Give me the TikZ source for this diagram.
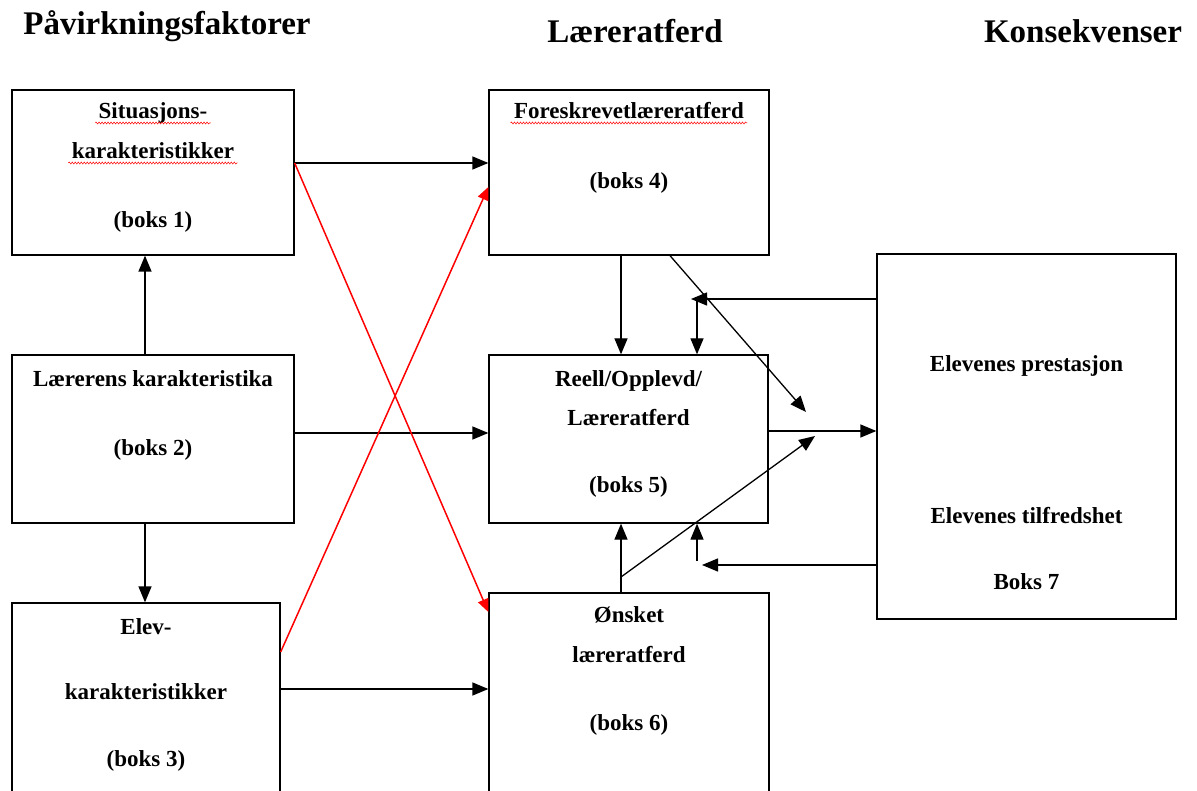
\documentclass[tikz,border=0pt]{standalone}
\usepackage{fontspec}
\setmainfont{Liberation Serif}
\usetikzlibrary{arrows.meta,decorations.pathmorphing}

\begin{document}
\begin{tikzpicture}[x=1pt,y=-1pt,
  box/.style={draw, line width=1.3pt, inner sep=0pt},
  txt/.style={font=\fontsize{23}{28}\selectfont\bfseries, anchor=base},
  head/.style={font=\fontsize{33}{40}\selectfont\bfseries, anchor=base},
  pil/.style={line width=1.3pt, -{Triangle[length=16pt,width=13pt]}},
  rpil/.style={red, line width=1.5pt, -{Triangle[length=13pt,width=11pt]}},
  squig/.style={red, line width=0.5pt, decorate, decoration={snake, amplitude=1pt, segment length=3pt}}]
\path[use as bounding box, clip] (0,0) rectangle (1197,791);
\fill[white] (0,0) rectangle (1197,791);

% headings
\node[head] (h1) at (167,35) {Påvirkningsfaktorer};
\node[head] (h2) at (635,43) {Læreratferd};
\node[head] (h3) at (1083,43) {Konsekvenser};

% left column
\node[box, minimum width=282pt, minimum height=165pt] (b1) at (153,172.5) {};
\node[txt] (t11) at (153,119) {Situasjons-};
\node[txt] (t12) at (153,159) {karakteristikker};
\node[txt] (t13) at (153,228) {(boks 1)};
\draw[squig] ([yshift=-4pt]t11.base west) -- ([yshift=-4pt]t11.base east);
\draw[squig] ([yshift=-4pt]t12.base west) -- ([yshift=-4pt]t12.base east);

\node[box, minimum width=282pt, minimum height=168pt] (b2) at (153,439) {};
\node[txt] (t21) at (153,387) {Lærerens karakteristika};
\node[txt] (t22) at (153,456) {(boks 2)};

\node[box, minimum width=268pt, minimum height=217pt] (b3) at (146,711.5) {};
\node[txt] (t31) at (146,634) {Elev-};
\node[txt] (t32) at (146,699) {karakteristikker};
\node[txt] (t33) at (146,766) {(boks 3)};

% middle column
\node[box, minimum width=280pt, minimum height=165pt] (b4) at (629,172.5) {};
\node[txt] (t41) at (629,119) {Foreskrevetlæreratferd};
\node[txt] (t42) at (629,189) {(boks 4)};
\draw[squig] ([yshift=-4pt]t41.base west) -- ([yshift=-4pt]t41.base east);

\node[box, minimum width=279pt, minimum height=168pt] (b5) at (628.5,439) {};
\node[txt] (t51) at (628.5,387) {Reell/Opplevd/};
\node[txt] (t52) at (628.5,425) {Læreratferd};
\node[txt] (t53) at (628.5,492) {(boks 5)};

\node[box, minimum width=280pt, minimum height=227pt] (b6) at (629,706.5) {};
\node[txt] (t61) at (629,622) {Ønsket};
\node[txt] (t62) at (629,662) {læreratferd};
\node[txt] (t63) at (629,730) {(boks 6)};

% right column
\node[box, minimum width=299pt, minimum height=365pt] (b7) at (1026.5,436.5) {};
\node[txt] (t71) at (1026.5,372) {Elevenes prestasjon};
\node[txt] (t72) at (1026.5,523) {Elevenes tilfredshet};
\node[txt] (t73) at (1026.5,589) {Boks 7};

% free ends
\coordinate (m1) at (806,412);
\coordinate (m2) at (815,436);
\coordinate (d0) at (621,577);
\coordinate (f1) at (697,299);
\coordinate (f2) at (697,561);
\coordinate (f3) at (702,565);

% left to middle
\draw[pil] ([yshift=9.5pt]b1.east) -- ([yshift=9.5pt]b4.west);
\draw[pil] ([yshift=6pt]b2.east) -- ([yshift=6pt]b5.west);
\draw[pil] ([yshift=22.5pt]b3.east) -- ([yshift=17.5pt]b6.west);
\draw[pil] ([xshift=-8pt]b2.north) -- ([xshift=-8pt]b1.south);
\draw[pil] ([xshift=-8pt]b2.south) -- ([xshift=-8pt]b2.south |- b3.north);
% red cross
\draw[rpil] ([yshift=9.5pt]b1.east) -- ([yshift=94.5pt]b6.west);
\draw[rpil] ([yshift=59.5pt]b3.east) -- ([yshift=-14.5pt]b4.west);

% middle
\draw[pil] ([xshift=-8pt]b4.south) -- ([xshift=-8pt]b4.south |- b5.north);
\draw[pil] ([xshift=-8pt]b6.north) -- ([xshift=-8pt]b6.north |- b5.south);
\draw[pil] ([xshift=41pt]b4.south) -- (m1);
\draw[pil] (d0) -- (m2);
\draw[pil] ([yshift=8pt]b5.east) -- ([yshift=8pt]b5.east -| b7.west);

% feedback from box 7
\draw[pil] (b7.west |- f1) -- ([xshift=-6pt]f1);
\draw[pil] (f1) -- (f1 |- b5.north);
\draw[pil] (b7.west |- f3) -- (f3);
\draw[pil] (f2) -- (f2 |- b5.south);
\end{tikzpicture}
\end{document}
